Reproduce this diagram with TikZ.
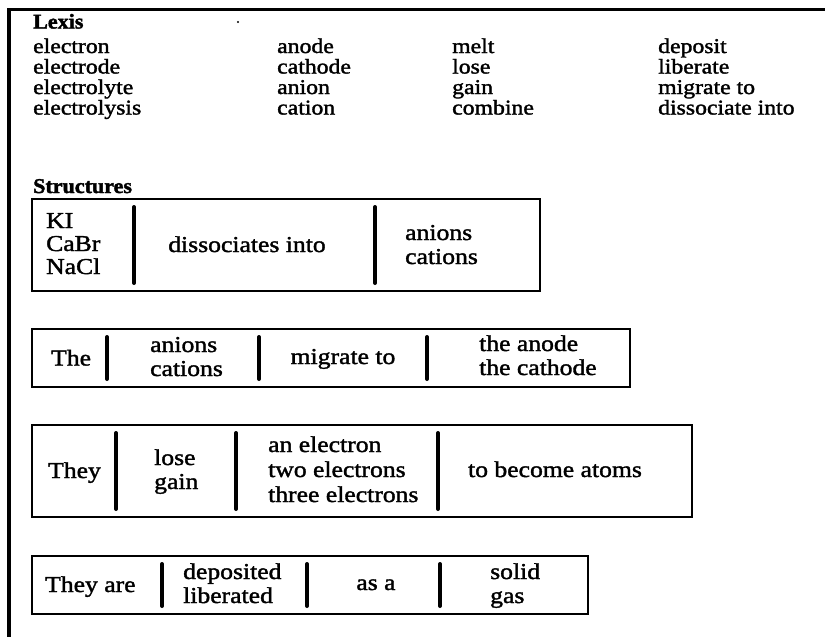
\documentclass[tikz,border=0pt]{standalone}
\usepackage{fontspec}
\setmainfont{Liberation Serif}[FakeStretch=1.13, FakeBold=1.6]
\newfontfamily\headfont{Liberation Serif Bold}[FakeStretch=1.05, FakeBold=1.8]
\begin{document}
\begin{tikzpicture}[x=1pt,y=-1pt,
  word/.style={anchor=base west, inner sep=0pt, font=\fontsize{21}{22}\selectfont},
  cell/.style={anchor=base west, inner sep=0pt, font=\fontsize{22.7}{24}\selectfont},
  mid/.style={anchor=base, inner sep=0pt, font=\fontsize{22.7}{24}\selectfont},
  head/.style={anchor=base west, inner sep=0pt, font=\headfont\fontsize{21}{22}\selectfont},
  box/.style={line width=2pt},
  bar/.style={line width=4pt, line cap=round},
  rule/.style={line width=3.5pt}]
\useasboundingbox (0,0) rectangle (825,637);

% outer rules: top and left
\draw[rule] (8,9.5) -- (825,9.5);
\draw[rule] (9,8) -- (9,637);
\fill (238,22) circle (1.2);

% Lexis
\node[head] (lexis) at (33,28.5) {Lexis};
\node[word] (l11) at (33,53) {electron};
\node[word] (l12) at (33,73.5) {electrode};
\node[word] (l13) at (33,94) {electrolyte};
\node[word] (l14) at (33,114.5) {electrolysis};
\node[word] (l21) at (277,53) {anode};
\node[word] (l22) at (277,73.5) {cathode};
\node[word] (l23) at (277,94) {anion};
\node[word] (l24) at (277,114.5) {cation};
\node[word] (l31) at (452,53) {melt};
\node[word] (l32) at (452,73.5) {lose};
\node[word] (l33) at (452,94) {gain};
\node[word] (l34) at (452,114.5) {combine};
\node[word] (l41) at (658,53) {deposit};
\node[word] (l42) at (658,73.5) {liberate};
\node[word] (l43) at (658,94) {migrate to};
\node[word] (l44) at (658,114.5) {dissociate into};

% Structures
\node[head] (structures) at (33,193) {Structures};

% table 1
\draw[box] (32,199) rectangle (540,291);
\draw[bar] (134,207) -- (134,283);
\draw[bar] (375,207) -- (375,283);
\node[cell] (t1a) at (46,228) {KI};
\node[cell] (t1b) at (46,251) {CaBr};
\node[cell] (t1c) at (46,274) {NaCl};
\node[mid] (t1d) at (247,252) {dissociates into};
\node[cell] (t1e) at (405,240) {anions};
\node[cell] (t1f) at (405,264) {cations};

% table 2
\draw[box] (32,329) rectangle (630,387);
\draw[bar] (107,337) -- (107,379);
\draw[bar] (259,337) -- (259,379);
\draw[bar] (427,337) -- (427,379);
\node[cell] (t2a) at (51,365.5) {The};
\node[cell] (t2b) at (150,352) {anions};
\node[cell] (t2c) at (150,376) {cations};
\node[mid] (t2d) at (343,364) {migrate to};
\node[cell] (t2e) at (479,351) {the anode};
\node[cell] (t2f) at (479,375) {the cathode};

% table 3
\draw[box] (32,425) rectangle (692,517);
\draw[bar] (116,433) -- (116,509);
\draw[bar] (236,433) -- (236,509);
\draw[bar] (438,433) -- (438,509);
\node[cell] (t3a) at (48,478) {They};
\node[cell] (t3b) at (154,465) {lose};
\node[cell] (t3c) at (154,489) {gain};
\node[cell] (t3d) at (268,452) {an electron};
\node[cell] (t3e) at (268,477) {two electrons};
\node[cell] (t3f) at (268,502) {three electrons};
\node[mid] (t3g) at (555,477) {to become atoms};

% table 4
\draw[box] (32,556) rectangle (588,614);
\draw[bar] (162,564) -- (162,606);
\draw[bar] (307,564) -- (307,606);
\draw[bar] (440,564) -- (440,606);
\node[cell] (t4a) at (45,592) {They are};
\node[cell] (t4b) at (183,579) {deposited};
\node[cell] (t4c) at (183,603) {liberated};
\node[mid] (t4d) at (376,590) {as a};
\node[cell] (t4e) at (490,579) {solid};
\node[cell] (t4f) at (490,603) {gas};
\end{tikzpicture}
\end{document}
